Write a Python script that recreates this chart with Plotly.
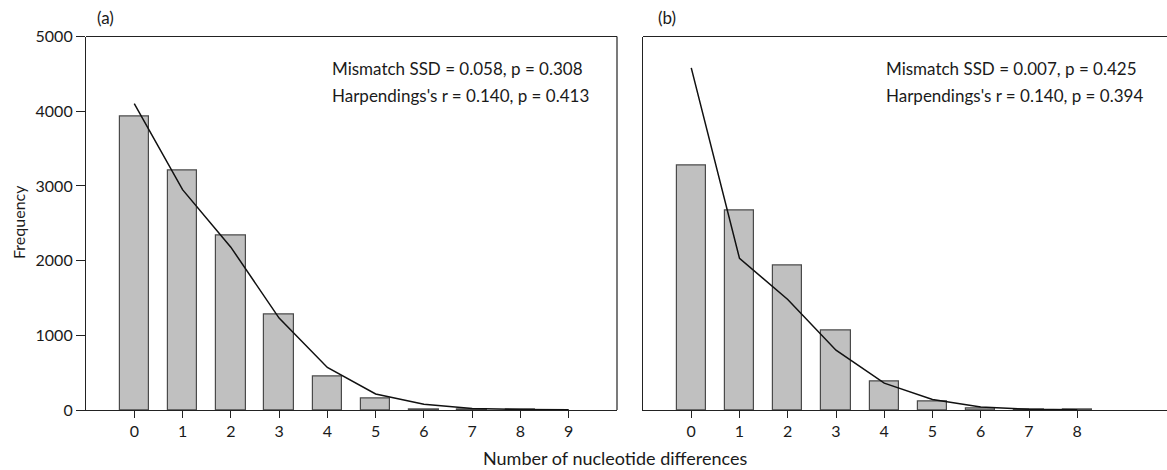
import plotly.graph_objects as go

# Pairwise mismatch distributions: observed (bars) vs expected under expansion (line)
diffs_a = [0, 1, 2, 3, 4, 5, 6, 7, 8, 9]
observed_a = [3930, 3200, 2330, 1280, 445, 150, 12, 4, 6, None]
expected_a = [4100, 2950, 2180, 1230, 570, 215, 78, 20, 8, 2]

diffs_b = [0, 1, 2, 3, 4, 5, 6, 7, 8]
observed_b = [3270, 2670, 1940, 1065, 375, 120, 14, 4, 10]
expected_b = [4580, 2030, 1480, 800, 360, 140, 40, 10, 3]

stats_a = ["Mismatch SSD = 0.058, p = 0.308", "Harpendings's r = 0.140, p = 0.413"]
stats_b = ["Mismatch SSD = 0.007, p = 0.425", "Harpendings's r = 0.140, p = 0.394"]

y_ticks = [0, 1000, 2000, 3000, 4000, 5000]

FONT = "Lato"
BAR_FILL = "#c0c0c0"
BAR_EDGE = "#4a4a4a"
TEXT = "#1a1a1a"
AXIS = "#222222"

fig = go.Figure()

for diffs, obs, exp, xa, ya in [
    (diffs_a, observed_a, expected_a, "x", "y"),
    (diffs_b, observed_b, expected_b, "x2", "y2"),
]:
    fig.add_trace(go.Bar(
        x=diffs, y=obs, width=0.61, xaxis=xa, yaxis=ya,
        marker=dict(color=BAR_FILL, line=dict(color=BAR_EDGE, width=1.2)),
        showlegend=False,
    ))
    fig.add_trace(go.Scatter(
        x=diffs, y=exp, mode="lines", xaxis=xa, yaxis=ya,
        line=dict(color="#111111", width=1.5),
        showlegend=False,
    ))

W, H = 1167, 470
y_dom = [1 - 410 / H, 1 - 36.5 / H]

axis_common = dict(
    linecolor=AXIS, linewidth=1.2, mirror=False,
    showgrid=False, zeroline=False, automargin=False,
    tickfont=dict(family=FONT, size=16, color=TEXT),
)

fig.update_layout(
    template="none",
    width=W, height=H, autosize=False,
    margin=dict(l=0, r=0, t=0, b=0, pad=0),
    paper_bgcolor="white", plot_bgcolor="white",
    bargap=0,
    xaxis=dict(
        domain=[86 / W, 617 / W], range=[-1, 10], anchor="y",
        tickmode="array", tickvals=diffs_a, ticktext=[str(d) for d in diffs_a],
        ticks="outside", ticklen=7, tickwidth=1.2, tickcolor=AXIS,
        showline=True, **axis_common,
    ),
    yaxis=dict(
        domain=y_dom, range=[0, 5000], anchor="x",
        tickmode="array", tickvals=y_ticks, ticktext=[str(v) for v in y_ticks],
        ticks="outside", ticklen=9, tickwidth=1.2, tickcolor=AXIS,
        showline=True, **axis_common,
    ),
    xaxis2=dict(
        domain=[643 / W, 1.0], range=[-1, 9.86], anchor="y2",
        tickmode="array", tickvals=diffs_b, ticktext=[str(d) for d in diffs_b],
        ticks="outside", ticklen=7, tickwidth=1.2, tickcolor=AXIS,
        showline=True, **axis_common,
    ),
    yaxis2=dict(
        domain=y_dom, range=[0, 5000], anchor="x2",
        showticklabels=False, ticks="", showline=True, **axis_common,
    ),
)

# panel (b) stays open on the right: paint its right edge white (paper coords, unclipped)
fig.add_shape(type="line", xref="paper", yref="paper", layer="above",
              x0=1.0, x1=1.0, y0=y_dom[0] + 2 / H, y1=y_dom[1] - 2 / H,
              line=dict(color="white", width=8))

# frame edges: top + right of panel (a), top of panel (b)
frame = [
    (86 / W, 617 / W, y_dom[1], y_dom[1]),
    (617 / W, 617 / W, y_dom[0], y_dom[1]),
    (643 / W, 1.0, y_dom[1], y_dom[1]),
]
for x0, x1, y0, y1 in frame:
    fig.add_shape(type="line", xref="paper", yref="paper", x0=x0, x1=x1, y0=y0, y1=y1,
                  layer="above", line=dict(color=AXIS, width=1.2))

annotations = [
    dict(text="(a)", x=95 / W, y=1 - 17 / H, xanchor="left", yanchor="middle", size=17),
    dict(text="(b)", x=656 / W, y=1 - 17 / H, xanchor="left", yanchor="middle", size=17),
    dict(text="Frequency", x=18 / W, y=1 - 222 / H, textangle=-90,
         xanchor="center", yanchor="middle", size=16),
    dict(text="Number of nucleotide differences", x=615 / W, y=1 - 458 / H,
         xanchor="center", yanchor="middle", size=18),
    dict(text=stats_a[0], x=330 / W, y=1 - 68 / H, xanchor="left", yanchor="middle", size=17),
    dict(text=stats_a[1], x=330 / W, y=1 - 95 / H, xanchor="left", yanchor="middle", size=17),
    dict(text=stats_b[0], x=884 / W, y=1 - 68 / H, xanchor="left", yanchor="middle", size=17),
    dict(text=stats_b[1], x=884 / W, y=1 - 95 / H, xanchor="left", yanchor="middle", size=17),
]
for a in annotations:
    size = a.pop("size")
    a.update(xref="paper", yref="paper", showarrow=False,
             font=dict(family=FONT, size=size, color=TEXT))
    fig.add_annotation(**a)

fig.write_html("out.html", config={"displayModeBar": False})
